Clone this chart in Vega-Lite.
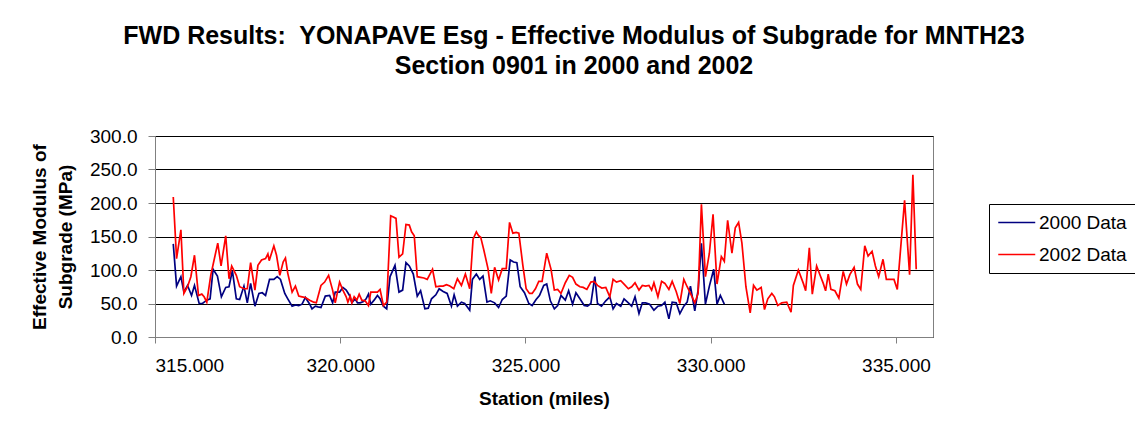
{
"$schema": "https://vega.github.io/schema/vega-lite/v6.json",
"autosize": {"type": "none"},
"width": 778,
"height": 201,
"padding": {"left": 155, "top": 136, "right": 202, "bottom": 94},
"background": "white",
"config": {"font": "Liberation Sans", "view": {"stroke": "#808080", "strokeWidth": 1}},
"title": {"text": ["FWD Results:\u00a0 YONAPAVE Esg - Effective Modulus of Subgrade for MNTH23", "Section 0901 in 2000 and 2002"], "font": "Liberation Sans", "fontSize": 25, "fontWeight": "bold", "color": "black", "lineHeight": 30, "anchor": "middle", "dx": 30, "offset": 48},
"datasets": {
"d2000": [
{"station":315.493,"value":139},{"station":315.582,"value":76},{"station":315.699,"value":90},{"station":315.780,"value":67},{"station":315.878,"value":77},{"station":315.986,"value":62},{"station":316.066,"value":77},{"station":316.192,"value":50},{"station":316.281,"value":50},{"station":316.398,"value":55},{"station":316.487,"value":57},{"station":316.568,"value":101},{"station":316.685,"value":91},{"station":316.792,"value":60},{"station":316.909,"value":74},{"station":316.998,"value":75},{"station":317.088,"value":99},{"station":317.195,"value":57},{"station":317.285,"value":56},{"station":317.401,"value":76},{"station":317.491,"value":51},{"station":317.581,"value":80},{"station":317.697,"value":46},{"station":317.805,"value":65},{"station":317.894,"value":66},{"station":317.984,"value":62},{"station":318.092,"value":86},{"station":318.208,"value":86},{"station":318.298,"value":90},{"station":318.387,"value":86},{"station":318.503,"value":65},{"station":318.584,"value":57},{"station":318.701,"value":46},{"station":318.790,"value":48},{"station":318.880,"value":47},{"station":318.969,"value":49},{"station":319.059,"value":59},{"station":319.176,"value":49},{"station":319.238,"value":42},{"station":319.328,"value":46},{"station":319.400,"value":45},{"station":319.480,"value":44},{"station":319.597,"value":61},{"station":319.713,"value":62},{"station":319.794,"value":51},{"station":319.865,"value":67},{"station":319.982,"value":67},{"station":320.071,"value":74},{"station":320.161,"value":70},{"station":320.251,"value":62},{"station":320.314,"value":51},{"station":320.403,"value":57},{"station":320.466,"value":51},{"station":320.538,"value":51},{"station":320.627,"value":53},{"station":320.699,"value":57},{"station":320.762,"value":64},{"station":320.824,"value":49},{"station":320.914,"value":55},{"station":321.004,"value":62},{"station":321.075,"value":57},{"station":321.165,"value":46},{"station":321.254,"value":42},{"station":321.344,"value":90},{"station":321.478,"value":107},{"station":321.586,"value":67},{"station":321.684,"value":70},{"station":321.774,"value":111},{"station":321.864,"value":106},{"station":321.972,"value":94},{"station":322.079,"value":61},{"station":322.169,"value":69},{"station":322.285,"value":42},{"station":322.375,"value":43},{"station":322.464,"value":57},{"station":322.581,"value":63},{"station":322.670,"value":72},{"station":322.778,"value":68},{"station":322.886,"value":65},{"station":323.002,"value":46},{"station":323.074,"value":63},{"station":323.163,"value":46},{"station":323.271,"value":52},{"station":323.360,"value":50},{"station":323.495,"value":40},{"station":323.567,"value":86},{"station":323.674,"value":94},{"station":323.764,"value":86},{"station":323.853,"value":91},{"station":323.961,"value":52},{"station":324.050,"value":54},{"station":324.167,"value":51},{"station":324.274,"value":44},{"station":324.373,"value":56},{"station":324.481,"value":61},{"station":324.588,"value":115},{"station":324.678,"value":112},{"station":324.767,"value":111},{"station":324.857,"value":75},{"station":324.973,"value":66},{"station":325.090,"value":50},{"station":325.180,"value":47},{"station":325.287,"value":56},{"station":325.377,"value":62},{"station":325.493,"value":77},{"station":325.573,"value":79},{"station":325.672,"value":54},{"station":325.779,"value":42},{"station":325.869,"value":47},{"station":325.958,"value":62},{"station":326.075,"value":55},{"station":326.165,"value":69},{"station":326.272,"value":49},{"station":326.362,"value":66},{"station":326.469,"value":57},{"station":326.586,"value":47},{"station":326.675,"value":46},{"station":326.765,"value":50},{"station":326.872,"value":90},{"station":326.944,"value":50},{"station":327.052,"value":46},{"station":327.168,"value":54},{"station":327.276,"value":60},{"station":327.365,"value":42},{"station":327.455,"value":50},{"station":327.571,"value":46},{"station":327.661,"value":57},{"station":327.777,"value":51},{"station":327.867,"value":46},{"station":327.957,"value":60},{"station":328.064,"value":35},{"station":328.154,"value":51},{"station":328.243,"value":51},{"station":328.351,"value":49},{"station":328.467,"value":40},{"station":328.575,"value":46},{"station":328.674,"value":47},{"station":328.763,"value":52},{"station":328.871,"value":27},{"station":328.960,"value":52},{"station":329.068,"value":51},{"station":329.167,"value":35},{"station":329.274,"value":46},{"station":329.364,"value":52},{"station":329.453,"value":76},{"station":329.570,"value":39},{"station":329.660,"value":70},{"station":329.749,"value":140},{"station":329.857,"value":49},{"station":329.964,"value":76},{"station":330.081,"value":101},{"station":330.170,"value":49},{"station":330.260,"value":62},{"station":330.367,"value":49}
],
"d2002": [
{"station":315.493,"value":209},{"station":315.582,"value":117},{"station":315.699,"value":160},{"station":315.780,"value":65},{"station":315.878,"value":75},{"station":315.968,"value":90},{"station":316.066,"value":122},{"station":316.174,"value":62},{"station":316.263,"value":64},{"station":316.326,"value":60},{"station":316.398,"value":52},{"station":316.505,"value":92},{"station":316.595,"value":115},{"station":316.694,"value":140},{"station":316.783,"value":106},{"station":316.909,"value":151},{"station":316.998,"value":87},{"station":317.070,"value":106},{"station":317.195,"value":92},{"station":317.285,"value":75},{"station":317.401,"value":72},{"station":317.491,"value":72},{"station":317.581,"value":111},{"station":317.697,"value":70},{"station":317.778,"value":107},{"station":317.876,"value":115},{"station":317.984,"value":117},{"station":318.047,"value":124},{"station":318.082,"value":114},{"station":318.208,"value":136},{"station":318.280,"value":122},{"station":318.369,"value":92},{"station":318.459,"value":112},{"station":318.521,"value":118},{"station":318.584,"value":95},{"station":318.701,"value":67},{"station":318.790,"value":76},{"station":318.880,"value":61},{"station":318.969,"value":60},{"station":319.059,"value":59},{"station":319.176,"value":55},{"station":319.283,"value":52},{"station":319.355,"value":51},{"station":319.480,"value":77},{"station":319.579,"value":82},{"station":319.686,"value":92},{"station":319.794,"value":70},{"station":319.865,"value":51},{"station":319.982,"value":82},{"station":320.071,"value":70},{"station":320.161,"value":60},{"station":320.206,"value":52},{"station":320.269,"value":61},{"station":320.314,"value":51},{"station":320.376,"value":60},{"station":320.448,"value":55},{"station":320.511,"value":64},{"station":320.582,"value":55},{"station":320.672,"value":54},{"station":320.762,"value":47},{"station":320.824,"value":67},{"station":320.914,"value":67},{"station":321.004,"value":67},{"station":321.075,"value":71},{"station":321.165,"value":47},{"station":321.254,"value":52},{"station":321.362,"value":181},{"station":321.434,"value":179},{"station":321.505,"value":177},{"station":321.586,"value":119},{"station":321.684,"value":124},{"station":321.774,"value":168},{"station":321.864,"value":167},{"station":321.926,"value":157},{"station":321.998,"value":151},{"station":322.079,"value":90},{"station":322.169,"value":89},{"station":322.258,"value":88},{"station":322.348,"value":86},{"station":322.491,"value":101},{"station":322.581,"value":75},{"station":322.688,"value":76},{"station":322.778,"value":76},{"station":322.868,"value":78},{"station":322.957,"value":76},{"station":323.065,"value":72},{"station":323.163,"value":87},{"station":323.271,"value":77},{"station":323.378,"value":94},{"station":323.495,"value":72},{"station":323.585,"value":146},{"station":323.674,"value":157},{"station":323.737,"value":151},{"station":323.791,"value":149},{"station":323.871,"value":131},{"station":323.988,"value":102},{"station":324.077,"value":65},{"station":324.167,"value":104},{"station":324.274,"value":85},{"station":324.373,"value":102},{"station":324.481,"value":102},{"station":324.570,"value":171},{"station":324.660,"value":155},{"station":324.749,"value":156},{"station":324.821,"value":155},{"station":324.929,"value":107},{"station":325.018,"value":72},{"station":325.108,"value":65},{"station":325.180,"value":65},{"station":325.269,"value":72},{"station":325.359,"value":83},{"station":325.448,"value":83},{"station":325.573,"value":125},{"station":325.690,"value":101},{"station":325.779,"value":70},{"station":325.869,"value":71},{"station":325.958,"value":65},{"station":326.075,"value":81},{"station":326.182,"value":92},{"station":326.272,"value":89},{"station":326.362,"value":79},{"station":326.469,"value":75},{"station":326.559,"value":74},{"station":326.657,"value":71},{"station":326.765,"value":82},{"station":326.854,"value":83},{"station":326.944,"value":77},{"station":327.060,"value":73},{"station":327.168,"value":74},{"station":327.276,"value":60},{"station":327.365,"value":86},{"station":327.455,"value":82},{"station":327.571,"value":84},{"station":327.661,"value":79},{"station":327.777,"value":72},{"station":327.867,"value":75},{"station":327.957,"value":81},{"station":328.064,"value":70},{"station":328.154,"value":77},{"station":328.243,"value":76},{"station":328.333,"value":77},{"station":328.405,"value":70},{"station":328.467,"value":81},{"station":328.575,"value":60},{"station":328.674,"value":83},{"station":328.763,"value":80},{"station":328.871,"value":71},{"station":328.960,"value":83},{"station":329.068,"value":68},{"station":329.167,"value":50},{"station":329.274,"value":86},{"station":329.364,"value":75},{"station":329.453,"value":65},{"station":329.570,"value":51},{"station":329.660,"value":65},{"station":329.749,"value":198},{"station":329.857,"value":90},{"station":329.964,"value":125},{"station":330.063,"value":183},{"station":330.170,"value":79},{"station":330.287,"value":120},{"station":330.367,"value":113},{"station":330.457,"value":174},{"station":330.573,"value":125},{"station":330.663,"value":163},{"station":330.753,"value":171},{"station":330.842,"value":140},{"station":330.950,"value":75},{"station":331.066,"value":36},{"station":331.156,"value":77},{"station":331.245,"value":70},{"station":331.362,"value":74},{"station":331.452,"value":41},{"station":331.541,"value":57},{"station":331.649,"value":65},{"station":331.720,"value":60},{"station":331.810,"value":47},{"station":331.918,"value":51},{"station":332.052,"value":52},{"station":332.168,"value":37},{"station":332.231,"value":77},{"station":332.366,"value":100},{"station":332.500,"value":80},{"station":332.563,"value":69},{"station":332.662,"value":133},{"station":332.742,"value":64},{"station":332.859,"value":106},{"station":332.948,"value":93},{"station":333.038,"value":80},{"station":333.101,"value":69},{"station":333.172,"value":94},{"station":333.244,"value":71},{"station":333.352,"value":69},{"station":333.459,"value":58},{"station":333.576,"value":98},{"station":333.665,"value":79},{"station":333.755,"value":93},{"station":333.871,"value":104},{"station":333.961,"value":79},{"station":334.050,"value":71},{"station":334.158,"value":136},{"station":334.248,"value":121},{"station":334.355,"value":128},{"station":334.445,"value":106},{"station":334.534,"value":90},{"station":334.651,"value":116},{"station":334.741,"value":86},{"station":334.848,"value":86},{"station":334.947,"value":86},{"station":335.036,"value":71},{"station":335.233,"value":204},{"station":335.368,"value":93},{"station":335.457,"value":242},{"station":335.547,"value":101}
]
},
"encoding": {
"x": {"field": "station", "type": "quantitative", "scale": {"domain": [315, 336], "nice": false, "zero": false},
"axis": {"values": [315, 320, 325, 330, 335], "format": ".3f", "grid": false, "title": "Station (miles)", "labelFontSize": 19, "labelColor": "black", "titleFontSize": 19, "titleFontWeight": "bold", "titleColor": "black", "tickSize": 6, "labelPadding": 13, "titlePadding": 14, "domainColor": "#808080", "tickColor": "#808080", "labelOverlap": false}},
"y": {"field": "value", "type": "quantitative", "scale": {"domain": [0, 300], "nice": false, "zero": true},
"axis": {"values": [0, 50, 100, 150, 200, 250, 300], "tickCount": 7, "format": ".1f", "grid": true, "gridColor": "black", "gridOpacity": 1, "title": ["Effective Modulus of", "Subgrade (MPa)"], "labelFontSize": 19, "labelColor": "black", "labelOverlap": false, "titleFontSize": 19, "titleFontWeight": "bold", "titleColor": "black", "titleLineHeight": 26, "tickSize": 7, "labelPadding": 11, "titlePadding": 14, "domainColor": "#808080", "tickColor": "#808080"}}
},
"layer": [
{
"data": {"name": "d2000"},
"mark": {"type": "line", "strokeWidth": 1.7},
"encoding": {
"color": {"datum": "2000 Data", "type": "nominal", "scale": {"domain": ["2000 Data", "2002 Data"], "range": ["#000080", "#FF0000"]},
"legend": {"title": null, "orient": "none", "legendX": 834, "legendY": 68, "symbolType": "M-1,0H3", "symbolSize": 342, "symbolStrokeWidth": 1.7, "labelFontSize": 19, "labelColor": "black", "strokeColor": "black", "fillColor": "white", "padding": 8, "rowPadding": 11, "labelOffset": 21}}
}
},
{
"data": {"name": "d2002"},
"mark": {"type": "line", "strokeWidth": 1.7},
"encoding": {
"color": {"datum": "2002 Data", "type": "nominal"}
}
}
]
}
